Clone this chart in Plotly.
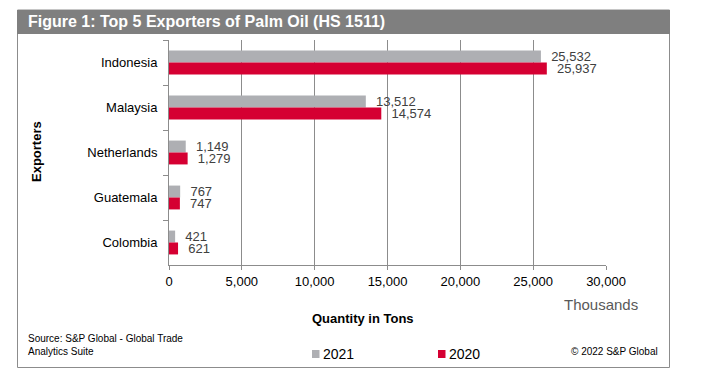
import plotly.graph_objects as go

countries = ["Indonesia", "Malaysia", "Netherlands", "Guatemala", "Colombia"]
values_2021 = [25532, 13512, 1149, 767, 421]
values_2020 = [25937, 14574, 1279, 747, 621]
series_names = ["2021", "2020"]
x_ticks = [0, 5000, 10000, 15000, 20000, 25000, 30000]

OFF = 8  # default page body margin
W, H = 702 - OFF, 384 - OFF
# plot area in page pixels
L, R, T, B = 169, 606, 40, 265

def px(x):
    return (x - L) / (R - L)

def py(y):
    return (B - y) / (B - T)

FONT = "Liberation Sans, Arial, sans-serif"
GRAY = "#AEAFB3"
RED = "#D50032"
LABEL_PAD = "\u00a0\u00a0"

fig = go.Figure()
for name, vals, color in [(series_names[0], values_2021, GRAY), (series_names[1], values_2020, RED)]:
    fig.add_trace(go.Bar(
        y=countries, x=vals, name=name, orientation="h",
        marker=dict(color=color, line=dict(width=0)),
        texttemplate=LABEL_PAD + "%{x:,}", textposition="outside", cliponaxis=False,
        constraintext="none", showlegend=False,
        textfont=dict(size=13, color="#404040", family=FONT),
    ))

legend_items = [(series_names[0], GRAY, 312), (series_names[1], RED, 438)]
shapes = [
    dict(type="rect", xref="paper", yref="paper",
         x0=px(17.5), x1=px(669.5), y0=py(367.5), y1=py(10),
         line=dict(color="#8C8C8C", width=1), fillcolor="rgba(0,0,0,0)", layer="below"),
    dict(type="rect", xref="paper", yref="paper",
         x0=px(17), x1=px(670), y0=py(34), y1=py(10),
         line=dict(width=0), fillcolor="#7F7F7F", layer="below"),
]
annotations = [
    dict(text="<b>Figure 1: Top 5 Exporters of Palm Oil (HS 1511)</b>",
         xref="paper", yref="paper", x=px(26), y=py(22), xanchor="left", yanchor="middle",
         showarrow=False, font=dict(size=16, color="white", family=FONT)),
    dict(text="<b>Exporters</b>", xref="paper", yref="paper", x=px(36), y=py(152),
         xanchor="center", yanchor="middle", textangle=-90, showarrow=False,
         font=dict(size=13, color="#000000")),
    dict(text="<b>Quantity in Tons</b>", xref="paper", yref="paper", x=px(363), y=py(318),
         xanchor="center", yanchor="middle", showarrow=False,
         font=dict(size=13, color="#000000")),
    dict(text="Thousands", xref="paper", yref="paper", x=px(601), y=py(304),
         xanchor="center", yanchor="middle", showarrow=False,
         font=dict(size=15, color="#595959")),
    dict(text="Source: S&P Global - Global Trade<br>Analytics Suite", xref="paper", yref="paper",
         x=px(26), y=py(345), xanchor="left", yanchor="middle", align="left", showarrow=False,
         font=dict(size=10, color="#000000")),
    dict(text="© 2022 S&P Global", xref="paper", yref="paper", x=px(660), y=py(351),
         xanchor="right", yanchor="middle", showarrow=False,
         font=dict(size=10, color="#000000")),
]
for name, color, x0 in legend_items:
    shapes.append(dict(type="rect", xref="paper", yref="paper",
                       x0=px(x0), x1=px(x0 + 7.5), y0=py(358), y1=py(350),
                       line=dict(width=0), fillcolor=color))
    annotations.append(dict(text=name, xref="paper", yref="paper", x=px(x0 + 9), y=py(354),
                            xanchor="left", yanchor="middle", showarrow=False,
                            font=dict(size=14, color="#000000")))

fig.update_layout(
    width=W, height=H,
    margin=dict(l=L - OFF, r=W - (R - OFF), t=T - OFF, b=H - (B - OFF), pad=0, autoexpand=False),
    paper_bgcolor="white", plot_bgcolor="white",
    font=dict(family=FONT, size=13, color="#000000"),
    barmode="group", bargap=0.47, bargroupgap=0,
    showlegend=False,
    xaxis=dict(
        range=[0, 30000], tickvals=x_ticks, tickformat=",", showgrid=True,
        gridcolor="#8C8C8C", gridwidth=1, showline=True, linecolor="#8C8C8C",
        ticks="outside", ticklen=4, tickcolor="#8C8C8C", zeroline=False,
        tickfont=dict(size=13, color="#000000"), fixedrange=True, automargin=False,
    ),
    yaxis=dict(
        autorange="reversed", showline=True, linecolor="#8C8C8C",
        ticks="outside", ticklen=5, tickcolor="#8C8C8C", tickson="boundaries",
        tickfont=dict(size=13, color="#000000"), ticklabelstandoff=8,
        showgrid=False, fixedrange=True, automargin=False,
    ),
    shapes=shapes,
    annotations=annotations,
)

fig.write_html("out.html")
